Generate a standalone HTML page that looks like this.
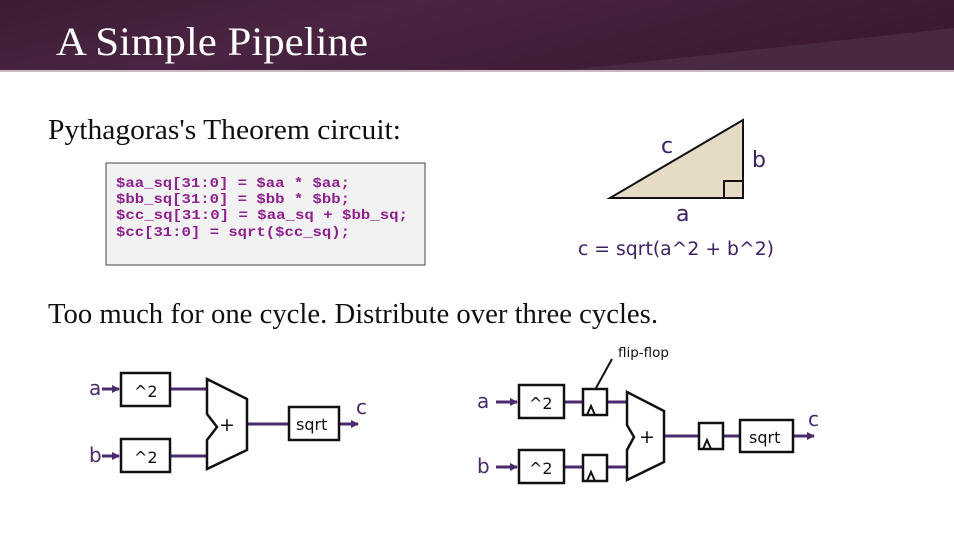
<!DOCTYPE html>
<html><head><meta charset="utf-8"><style>
body{margin:0;width:954px;height:532px;overflow:hidden;background:#fff}
</style></head><body>
<svg width="954" height="532" viewBox="0 0 954 532" xmlns="http://www.w3.org/2000/svg">
<defs>
<linearGradient id="hg" x1="0" y1="0" x2="1" y2="0.3">
<stop offset="0" stop-color="#3b1d33"/><stop offset="0.4" stop-color="#4a2442"/><stop offset="1" stop-color="#3a1a31"/>
</linearGradient>
<marker id="ar" markerWidth="8" markerHeight="8" refX="7" refY="4" orient="auto" markerUnits="userSpaceOnUse"><path d="M0,0 L8,4 L0,8 Z" fill="#4b2a6e"/></marker>
</defs>
<rect x="0" y="0" width="954" height="71" fill="url(#hg)"/>
<polygon points="560,71 954,28 954,71" fill="#4e3046" opacity="0.7"/>
<rect x="0" y="70" width="954" height="2" fill="#c9b9c6"/>
<text x="56" y="55" font-family="Liberation Serif, serif" font-size="40" fill="#fff" textLength="312" lengthAdjust="spacingAndGlyphs">A Simple Pipeline</text>

<text x="48" y="139" font-family="Liberation Serif, serif" font-size="28.5" fill="#111" textLength="353" lengthAdjust="spacingAndGlyphs">Pythagoras's Theorem circuit:</text>
<rect x="106" y="163" width="319" height="102" fill="#f2f2f2" stroke="#444" stroke-width="1"/>
<g font-family="Liberation Mono, monospace" font-size="14" font-weight="bold" fill="#8e1f8c">
<text x="116" y="187" textLength="234" lengthAdjust="spacingAndGlyphs">$aa_sq[31:0] = $aa * $aa;</text>
<text x="116" y="203" textLength="234" lengthAdjust="spacingAndGlyphs">$bb_sq[31:0] = $bb * $bb;</text>
<text x="116" y="219" textLength="292" lengthAdjust="spacingAndGlyphs">$cc_sq[31:0] = $aa_sq + $bb_sq;</text>
<text x="116" y="236" textLength="234" lengthAdjust="spacingAndGlyphs">$cc[31:0] = sqrt($cc_sq);</text>
</g>
<polygon points="610,198 743,120 743,198" fill="#e6dcc6" stroke="#111" stroke-width="2"/>
<rect x="724" y="181" width="19" height="17" fill="none" stroke="#111" stroke-width="2"/>
<g font-family="DejaVu Sans, sans-serif" fill="#3c2063">
<text x="661" y="153" font-size="22">c</text>
<text x="752" y="167" font-size="22">b</text>
<text x="676" y="221" font-size="22">a</text>
<text x="578" y="255" font-size="18.5" textLength="196" lengthAdjust="spacingAndGlyphs">c = sqrt(a^2 + b^2)</text>
</g>

<text x="48" y="323" font-family="Liberation Serif, serif" font-size="28.5" fill="#111" textLength="610" lengthAdjust="spacingAndGlyphs">Too much for one cycle. Distribute over three cycles.</text>

<g stroke="#4b2a6e" stroke-width="3" fill="none">
<line x1="102" y1="389" x2="119" y2="389" marker-end="url(#ar)"/>
<line x1="102" y1="456" x2="119" y2="456" marker-end="url(#ar)"/>
<line x1="170" y1="389" x2="207" y2="389"/>
<line x1="170" y1="456" x2="207" y2="456"/>
<line x1="247" y1="424" x2="289" y2="424"/>
<line x1="339" y1="424" x2="358" y2="424" marker-end="url(#ar)"/>
<line x1="496" y1="402" x2="517" y2="402" marker-end="url(#ar)"/>
<line x1="496" y1="467" x2="517" y2="467" marker-end="url(#ar)"/>
<line x1="564" y1="402" x2="627" y2="402"/>
<line x1="564" y1="467" x2="627" y2="467"/>
<line x1="664" y1="436" x2="740" y2="436"/>
<line x1="793" y1="436" x2="814" y2="436" marker-end="url(#ar)"/>
</g>
<g stroke="#111" stroke-width="2.5" fill="#fff">
<rect x="121" y="373" width="49" height="33"/>
<rect x="121" y="439" width="49" height="33"/>
<polygon points="207,379 247,399 247,450 207,469 207,440 217,427 207,414"/>
<rect x="289" y="407" width="50" height="33"/>
<rect x="519" y="385" width="45" height="33"/>
<rect x="519" y="450" width="45" height="33"/>
<rect x="583" y="389" width="24" height="26"/>
<rect x="583" y="455" width="24" height="26"/>
<polygon points="627,392 664,411 664,462 627,480 627,450 634,437 627,425"/>
<rect x="699" y="423" width="24" height="26"/>
<rect x="740" y="420" width="53" height="32"/>
</g>
<g stroke="#111" stroke-width="2" fill="none">
<polyline points="587,415 591,406 595,415"/>
<polyline points="587,481 591,472 595,481"/>
<polyline points="703,449 707,440 711,449"/>
<line x1="612" y1="359" x2="596" y2="388"/>
</g>
<g font-family="DejaVu Sans, sans-serif" font-size="16" fill="#111">
<text x="134" y="397">^2</text><text x="134" y="463">^2</text>
<text x="219" y="431" font-size="19">+</text>
<text x="296" y="430">sqrt</text>
<text x="529" y="409">^2</text><text x="529" y="474">^2</text>
<text x="639" y="443" font-size="19">+</text>
<text x="749" y="443">sqrt</text>
<text x="618" y="357" font-size="13.5" textLength="51" lengthAdjust="spacingAndGlyphs">flip-flop</text>
</g>
<g font-family="DejaVu Sans, sans-serif" font-size="20" fill="#4a2a6a">
<text x="89" y="395">a</text><text x="89" y="462">b</text><text x="356" y="414">c</text>
<text x="477" y="408">a</text><text x="477" y="473">b</text><text x="808" y="426">c</text>
</g>
</svg>
</body></html>
